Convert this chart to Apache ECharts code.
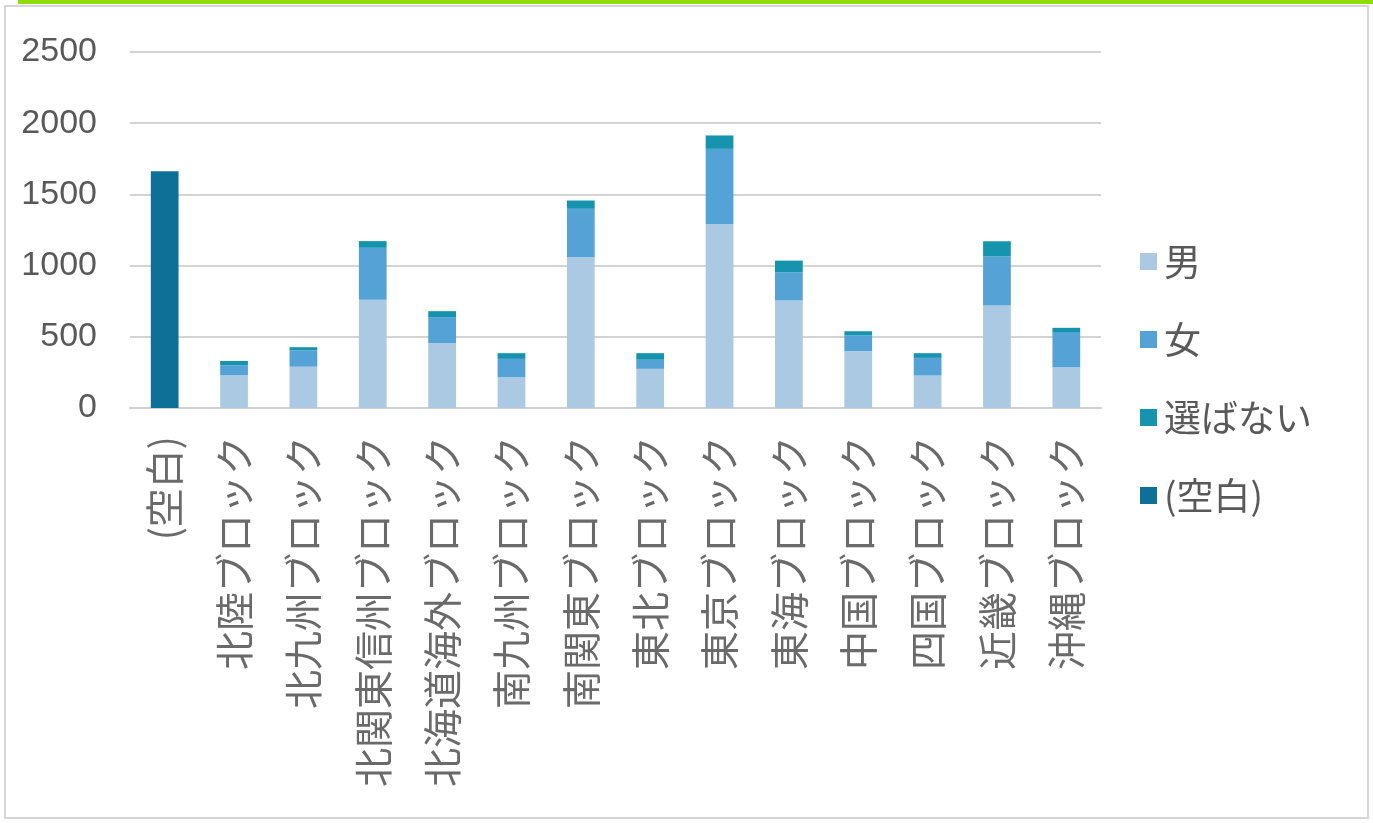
<!DOCTYPE html>
<html>
<head>
<meta charset="utf-8">
<script src="https://cdn.jsdelivr.net/npm/echarts@6/dist/echarts.min.js"></script>
<style>
  html, body { margin: 0; padding: 0; background: #ffffff; }
  #chart { width: 1373px; height: 823px; }
</style>
</head>
<body>
<div id="chart"></div>
<script>
// Regional blocks along the x axis
const categories = ['(空白)', '北陸ブロック', '北九州ブロック', '北関東信州ブロック', '北海道海外ブロック',
  '南九州ブロック', '南関東ブロック', '東北ブロック', '東京ブロック', '東海ブロック',
  '中国ブロック', '四国ブロック', '近畿ブロック', '沖縄ブロック'];

// Stacked counts per block (bottom to top)
const male    = [null, 230, 290, 760, 455, 216, 1059, 275, 1293, 755, 399, 228, 720, 287];
const female  = [null, 70, 115, 365, 183, 129, 340, 64, 527, 198, 110, 124, 344, 246];
const noPick  = [null, 30, 22, 47, 42, 40, 58, 46, 94, 82, 30, 33, 107, 30];
const blank   = [1663, null, null, null, null, null, null, null, null, null, null, null, null, null];

const seriesNames = ['男', '女', '選ばない', '(空白)'];
const yTicks = { min: 0, max: 2500, interval: 500 };

const colors = ['#abc9e3', '#55a3d6', '#1694ae', '#0e6f97'];

const chart = echarts.init(document.getElementById('chart'));

const barSeries = [male, female, noPick, blank].map((data, i) => ({
  name: seriesNames[i],
  type: 'bar',
  stack: 'total',
  data: data,
  barWidth: '40%',
  itemStyle: { color: colors[i] },
  emphasis: { disabled: true }
}));

chart.setOption({
  animation: false,
  backgroundColor: '#ffffff',
  graphic: [
    {
      type: 'rect',
      shape: { x: 5, y: 6, width: 1363, height: 812 },
      style: { fill: 'none', stroke: '#d6d6d6', lineWidth: 2 },
      silent: true
    },
    {
      type: 'rect',
      shape: { x: 18, y: 0, width: 1355, height: 4 },
      style: { fill: '#8edc0a' },
      silent: true
    }
  ],
  grid: { left: 130, right: 272, top: 52, bottom: 415, containLabel: false },
  legend: {
    orient: 'vertical',
    left: 1135,
    top: 238,
    itemWidth: 17,
    itemHeight: 17,
    itemGap: 41,
    icon: 'rect',
    data: seriesNames,
    textStyle: { fontSize: 37, color: '#595959', fontFamily: 'Noto Sans CJK JP', padding: [0, 0, 0, 2] }
  },
  xAxis: {
    type: 'category',
    data: categories,
    axisLine: { show: true, lineStyle: { color: '#d0d0d0', width: 2 } },
    axisTick: { show: false },
    axisLabel: {
      interval: 0,
      rotate: 90,
      margin: 28,
      fontSize: 39,
      color: '#6a6a6a',
      fontFamily: 'Noto Sans CJK JP'
    }
  },
  yAxis: {
    type: 'value',
    min: yTicks.min,
    max: yTicks.max,
    interval: yTicks.interval,
    axisLine: { show: false },
    axisTick: { show: false },
    axisLabel: {
      margin: 33,
      fontSize: 34,
      color: '#595959',
      fontFamily: 'Liberation Sans, Arial, sans-serif',
      formatter: (v) => String(v)
    },
    splitLine: { lineStyle: { color: '#d4d4d4', width: 2 } }
  },
  series: barSeries
});
</script>
</body>
</html>
